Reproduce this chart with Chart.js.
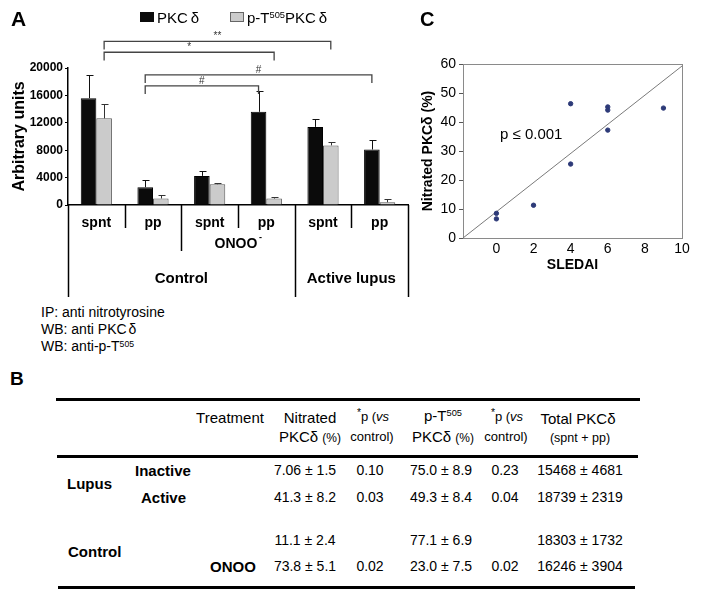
<!DOCTYPE html>
<html>
<head>
<meta charset="utf-8">
<script src="https://cdn.jsdelivr.net/npm/chart.js@4.4.1/dist/chart.umd.min.js"></script>
<style>
  body { margin: 0; background: #fff; }
  #page { position: relative; width: 704px; height: 599px; overflow: hidden; background: #fff;
          font-family: 'Liberation Sans', Arial, sans-serif; color: #000; }
  .t { position: absolute; white-space: nowrap; line-height: 1; transform: translate(-50%, -50%); }
  .l { position: absolute; white-space: nowrap; line-height: 1; transform: translateY(-50%); }
  .up { position: relative; top: -0.5em; font-size: 0.62em; }
  .rule { position: absolute; height: 3px; background: #000; }
  .key { position: absolute; width: 14px; height: 10px; box-sizing: border-box; }
  #chartA { position: absolute; left: 0; top: 0; }
  #chartC { position: absolute; left: 380px; top: 0; }
</style>
</head>
<body>
<div id="page">
  <canvas id="chartA" width="420" height="300"></canvas>
  <canvas id="chartC" width="324" height="300"></canvas>

  <div class="l" style="left:11px;top:18px;font-size:21px;font-weight:bold">A</div>
  <div class="key" style="left:140px;top:12px;background:#0b0b0b"></div>
  <div class="l" style="left:157px;top:17px;font-size:15px">PKC<span style="margin-left:3px">δ</span></div>
  <div class="key" style="left:230px;top:12px;background:#cbcbcb;border:1px solid #666"></div>
  <div class="l" style="left:247px;top:18px;font-size:15px">p-T<span class="up">505</span>PKC<span style="margin-left:3px">δ</span></div>

  <div class="l" style="left:41px;top:312px;font-size:14px">IP: anti nitrotyrosine</div>
  <div class="l" style="left:41px;top:329px;font-size:14px">WB: anti PKC<span style="margin-left:2px">δ</span></div>
  <div class="l" style="left:41px;top:346px;font-size:14px">WB: anti-p-T<span class="up">505</span></div>

  <div class="l" style="left:420px;top:19px;font-size:20px;font-weight:bold">C</div>
  <div class="l" style="left:500px;top:133px;font-size:15px">p ≤ 0.001</div>

  <div class="l" style="left:10px;top:378px;font-size:19px;font-weight:bold">B</div>
  <div id="table"></div>
</div>

<script>
const FONT = "'Liberation Sans', Arial, sans-serif";
Chart.defaults.font.family = FONT;
Chart.defaults.color = '#000';

// ---- panel A data ----
const groups = ['spnt', 'pp', 'spnt', 'pp', 'spnt', 'pp'];
const pkcDelta = [15600, 2600, 4250, 13600, 11400, 8100];
const pkcDeltaErr = [3400, 1100, 750, 3000, 1100, 1350];
const pT505 = [12650, 950, 3030, 940, 8700, 400];
const pT505Err = [2050, 570, 250, 230, 430, 430];
const yTicksA = [0, 4000, 8000, 12000, 16000, 20000];

// groups below the axis (category index ranges)
const treatments = [{ label: 'ONOO', from: 2, to: 3 }];
const cohorts = [{ label: 'Control', from: 0, to: 3 }, { label: 'Active lupus', from: 4, to: 5 }];

// significance brackets: [category, dataset] at each end, level in y units
const brackets = [
  { from: [0, 1], to: [4, 1], level: 23900, label: '**' },
  { from: [0, 1], to: [3, 1], level: 22300, label: '*' },
  { from: [1, 0], to: [5, 0], level: 19000, label: '#' },
  { from: [1, 0], to: [3, 0], level: 17400, label: '#' }
];

// ---- panel C data ----
const sledai = [0, 0, 2, 4, 4, 6, 6, 6, 9];
const nitrated = [8.5, 6.6, 11.3, 46.3, 25.5, 45.2, 44.1, 37.2, 44.8];
const regX = [-1.8, 10];
const regY = [0, 59.3];
const xTicksC = [0, 2, 4, 6, 8, 10];

// ---- panel B data ----
const tblSub = ['Inactive', 'Active', '', ''];
const tblTreatment = ['', '', '', 'ONOO'];
const tblNitrated = ['7.06 ± 1.5', '41.3 ± 8.2', '11.1 ± 2.4', '73.8 ± 5.1'];
const tblNitratedP = ['0.10', '0.03', '', '0.02'];
const tblPT505 = ['75.0 ± 8.9', '49.3 ± 8.4', '77.1 ± 6.9', '23.0 ± 7.5'];
const tblPT505P = ['0.23', '0.04', '', '0.02'];
const tblTotal = ['15468 ± 4681', '18739 ± 2319', '18303 ± 1732', '16246 ± 3904'];

const errorBars = {
  id: 'errorBars',
  afterDatasetsDraw(chart) {
    const ctx = chart.ctx;
    const y = chart.scales.y;
    chart.data.datasets.forEach((ds, di) => {
      chart.getDatasetMeta(di).data.forEach((bar, i) => {
        const top = Math.round(y.getPixelForValue(ds.data[i] + ds.errors[i])) + 0.5;
        const x = Math.round(bar.x) + 0.5;
        ctx.save();
        ctx.strokeStyle = ds.errorColor;
        ctx.lineWidth = 1;
        ctx.beginPath();
        ctx.moveTo(x, bar.y);
        ctx.lineTo(x, top);
        ctx.moveTo(x - 3, top);
        ctx.lineTo(x + 4, top);
        ctx.stroke();
        ctx.restore();
      });
    });
  }
};

const panelAExtras = {
  id: 'panelAExtras',
  afterDraw(chart) {
    const ctx = chart.ctx;
    const { left, right, bottom } = chart.chartArea;
    const xs = chart.scales.x, ys = chart.scales.y;
    const centers = groups.map((g, i) => xs.getPixelForValue(i));
    const bounds = [left];
    for (let i = 1; i < centers.length; i++) bounds.push((centers[i - 1] + centers[i]) / 2);
    bounds.push(right);

    ctx.save();
    ctx.strokeStyle = '#000';
    ctx.lineWidth = 1.5;
    bounds.forEach((bx, k) => {
      let depth = 228;
      if (treatments.some(t => t.from === k)) depth = 251;
      if (cohorts.some(c => c.from === k || c.to + 1 === k)) depth = 297;
      ctx.beginPath();
      ctx.moveTo(Math.round(bx) + 0.5, bottom);
      ctx.lineTo(Math.round(bx) + 0.5, depth);
      ctx.stroke();
    });

    ctx.fillStyle = '#000';
    ctx.textAlign = 'center';
    ctx.textBaseline = 'middle';
    ctx.font = 'bold 14px ' + FONT;
    groups.forEach((g, i) => ctx.fillText(g, centers[i], 223));

    treatments.forEach(t => {
      const cx = bounds[t.from + 1 + Math.floor((t.to - t.from) / 2)];
      ctx.font = 'bold 14px ' + FONT;
      const w = ctx.measureText(t.label).width;
      ctx.fillText(t.label, cx - 2, 244);
      ctx.font = 'bold 9px ' + FONT;
      ctx.fillText('-', cx - 2 + w / 2 + 3, 238);
    });

    ctx.font = 'bold 15px ' + FONT;
    cohorts.forEach(c => ctx.fillText(c.label, (bounds[c.from] + bounds[c.to + 1]) / 2, 279));

    // brackets
    ctx.strokeStyle = '#444';
    ctx.lineWidth = 1.3;
    ctx.font = '10px ' + FONT;
    ctx.textBaseline = 'alphabetic';
    ctx.fillStyle = '#333';
    brackets.forEach(b => {
      const x1 = chart.getDatasetMeta(b.from[1]).data[b.from[0]].x;
      const x2 = chart.getDatasetMeta(b.to[1]).data[b.to[0]].x;
      const yTop = ys.getPixelForValue(b.level);
      const yEnd = ys.getPixelForValue(b.level - 1200);
      ctx.beginPath();
      ctx.moveTo(x1, yEnd);
      ctx.lineTo(x1, yTop);
      ctx.lineTo(x2, yTop);
      ctx.lineTo(x2, yEnd);
      ctx.stroke();
      ctx.fillText(b.label, (x1 + x2) / 2, yTop - 2);
    });
    ctx.restore();
  }
};

new Chart(document.getElementById('chartA'), {
  type: 'bar',
  data: {
    labels: groups,
    datasets: [
      { label: 'PKCδ', data: pkcDelta, errors: pkcDeltaErr, errorColor: '#111',
        backgroundColor: '#0b0b0b', borderColor: '#000', borderWidth: 1 },
      { label: 'p-T505PKCδ', data: pT505, errors: pT505Err, errorColor: '#333',
        backgroundColor: '#cbcbcb', borderColor: '#5a5a5a', borderWidth: 1 }
    ]
  },
  options: {
    responsive: false,
    animation: false,
    layout: { padding: { top: 68, right: 12, left: 0, bottom: 0 } },
    plugins: { legend: { display: false }, tooltip: { enabled: false } },
    datasets: { bar: { categoryPercentage: 0.55, barPercentage: 1 } },
    scales: {
      x: {
        grid: { display: false },
        ticks: { display: false },
        border: { color: '#000', width: 1.5 },
        afterFit(s) { s.height = 95; }
      },
      y: {
        min: 0, max: 20000,
        afterBuildTicks(s) { s.ticks = yTicksA.map(v => ({ value: v })); },
        ticks: { color: '#000', font: { size: 12, weight: 'bold' }, padding: 2,
                 callback: v => String(v) },
        grid: { drawOnChartArea: false, tickLength: 3, color: '#000' },
        border: { color: '#000', width: 1.5 },
        title: { display: true, text: 'Arbitrary units', color: '#000',
                 font: { size: 16, weight: 'bold' }, padding: { top: 10 } },
        afterFit(s) { s.width = 68; }
      }
    }
  },
  plugins: [errorBars, panelAExtras]
});

const boxC = {
  id: 'boxC',
  beforeDatasetsDraw(chart) {
    const { left, right, top, bottom } = chart.chartArea;
    const ctx = chart.ctx;
    ctx.save();
    ctx.strokeStyle = '#8a8a8a';
    ctx.lineWidth = 1;
    ctx.strokeRect(Math.round(left) + 0.5, Math.round(top) + 0.5, Math.round(right - left), Math.round(bottom - top));
    ctx.restore();
  }
};

new Chart(document.getElementById('chartC'), {
  type: 'scatter',
  data: {
    datasets: [
      { type: 'line', data: regX.map((x, i) => ({ x, y: regY[i] })), borderColor: '#7a7a7a',
        borderWidth: 1, pointRadius: 0, order: 2 },
      { data: sledai.map((x, i) => ({ x, y: nitrated[i] })), backgroundColor: '#2d3a78',
        borderColor: '#2d3a78', pointRadius: 2.2, order: 1 }
    ]
  },
  options: {
    responsive: false,
    animation: false,
    layout: { padding: { top: 64, right: 22, left: 36, bottom: 24 } },
    plugins: { legend: { display: false }, tooltip: { enabled: false } },
    scales: {
      x: {
        type: 'linear', min: -1.8, max: 10,
        afterBuildTicks(s) { s.ticks = xTicksC.map(v => ({ value: v })); },
        ticks: { color: '#000', font: { size: 14 }, padding: -5 },
        grid: { display: false },
        border: { color: '#555' },
        title: { display: true, text: 'SLEDAI', color: '#000', font: { size: 14, weight: 'bold' },
                 padding: { top: 0, bottom: 2 } },
        afterFit(s) { s.height = 38; }
      },
      y: {
        min: 0, max: 60,
        ticks: { stepSize: 10, color: '#000', font: { size: 14 }, padding: 3 },
        grid: { drawOnChartArea: false, tickLength: 4, color: '#555' },
        border: { color: '#555' },
        title: { display: true, text: 'Nitrated PKCδ (%)', color: '#000',
                 font: { size: 14, weight: 'bold' }, padding: { top: 4 } },
        afterFit(s) { s.width = 47; }
      }
    }
  },
  plugins: [boxC]
});

// ---- panel B table ----
const table = document.getElementById('table');
function put(html, x, y, style, left) {
  const d = document.createElement('div');
  d.className = left ? 'l' : 't';
  d.style.cssText = `left:${x}px;top:${y}px;` + (style || '');
  d.innerHTML = html;
  table.appendChild(d);
}
function rule(x, y, w) {
  const d = document.createElement('div');
  d.className = 'rule';
  d.style.cssText = `left:${x}px;top:${y}px;width:${w}px;`;
  table.appendChild(d);
}
rule(56, 398, 584);
rule(57, 455, 581);
rule(58, 586, 577);

const H = 'font-size:15px;';
put('Treatment', 230, 417, H);
put('Nitrated', 310, 417, H);
put('PKCδ <span style="font-size:12px">(%)</span>', 310, 436, H);
put('<span class="up" style="font-size:0.8em">*</span>p (<i>vs</i>', 373, 417, 'font-size:13px;');
put('control)', 372, 436, 'font-size:13px;');
put('p-T<span class="up">505</span>', 443, 416, H);
put('PKCδ <span style="font-size:12px">(%)</span>', 443, 436, H);
put('<span class="up" style="font-size:0.8em">*</span>p (<i>vs</i>', 507, 417, 'font-size:13px;');
put('control)', 506, 436, 'font-size:13px;');
put('Total PKCδ', 578, 418, H);
put('(spnt + pp)', 580, 438, 'font-size:12.5px;');

const B = 'font-size:15px;font-weight:bold;';
put('Lupus', 67, 483, B, true);
put('Control', 68, 551, B, true);
const rowY = [470, 497, 540, 566];
const subX = [135, 141];
tblSub.forEach((s, i) => { if (s) put(s, subX[i], rowY[i], B, true); });
tblTreatment.forEach((s, i) => { if (s) put(s, 210, rowY[i], B, true); });
const cols = [[tblNitrated, 305], [tblNitratedP, 370], [tblPT505, 441], [tblPT505P, 505], [tblTotal, 580]];
cols.forEach(([arr, cx]) => arr.forEach((v, i) => { if (v) put(v, cx, rowY[i], 'font-size:14px;'); }));
</script>
</body>
</html>
